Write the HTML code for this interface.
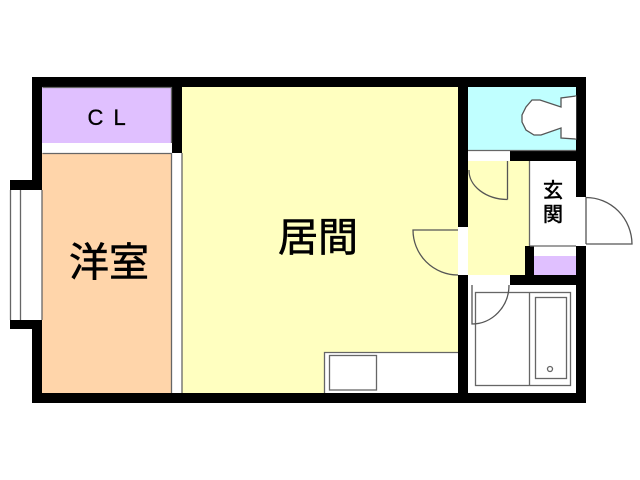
<!DOCTYPE html>
<html><head><meta charset="utf-8"><style>
html,body{margin:0;padding:0;background:#fff}
svg{display:block}
text{font-family:"Liberation Sans","Noto Sans CJK JP",sans-serif;fill:#000;stroke:#000;stroke-width:.6px}
</style></head><body>
<svg width="640" height="480" viewBox="0 0 640 480" xmlns="http://www.w3.org/2000/svg">
<rect width="640" height="480" fill="#fff"/>
<!-- outer walls -->
<rect x="32" y="77" width="554" height="326" fill="#000"/>
<rect x="10" y="180" width="32" height="149" fill="#000"/>
<!-- rooms -->
<rect x="42" y="87" width="130" height="56" fill="#e0c0ff"/>
<rect x="42" y="143" width="130" height="10" fill="#fff"/>
<rect x="42" y="153" width="130" height="240" fill="#ffd5aa"/>
<rect x="172" y="153" width="10" height="240" fill="#fff"/>
<rect x="182" y="87" width="276" height="306" fill="#ffffc0"/>
<rect x="468" y="87" width="108" height="63" fill="#c0ffff"/>
<rect x="468" y="151" width="42" height="10" fill="#fff"/>
<rect x="468" y="161" width="62" height="85" fill="#ffffc0"/>
<rect x="468" y="246" width="57" height="29" fill="#ffffc0"/>
<rect x="530" y="161" width="46" height="85" fill="#fff"/>
<rect x="534" y="246" width="42" height="10" fill="#fff"/>
<rect x="534" y="256" width="42" height="19" fill="#e0c0ff"/>
<rect x="468" y="275" width="42" height="10" fill="#fff"/>
<rect x="468" y="285" width="108" height="108" fill="#fff"/>
<rect x="458" y="227" width="10" height="48" fill="#fff"/>
<rect x="576" y="197" width="10" height="49" fill="#fff"/>
<rect x="10" y="190" width="32" height="130" fill="#fff"/>
<rect x="324" y="352" width="134" height="41" fill="#fff"/>
<g fill="none" stroke="#666" stroke-width="1.300">
<path d="M42.500 87.500H171.500V143M42.500 153.500H171.500V393M182 153V393"/>
<path d="M10.500 190V320M20.500 190V320M42 190V320" />
<path d="M529.500 161V246M530 246H576M468 150.500H576"/>
<path d="M324.500 393V352.500H458"/>
<rect x="329.500" y="355.500" width="47" height="34.500"/>
<rect x="475.500" y="292.500" width="95" height="93"/>
<path d="M529.500 292.500V385.500"/>
<rect x="535.500" y="297.500" width="31" height="81"/>
<circle cx="550" cy="369" r="2.500"/>
<path d="M507.500 161V199.500M469 170A39 29 0 0 0 507.500 199.500" stroke="#555"/>
<path d="M458 230H413A45 45 0 0 0 458 275" stroke="#555"/>
<path d="M586 197V244M586 197.500A46 47 0 0 1 632 244H586" stroke="#555"/>
<path d="M509 285A37 39 0 0 1 472 324V285" stroke="#555"/>
<path d="M576 96L561 98V107L540 100H532L526 107L522 115V122L526 130L534 135H541L561 128V138L576 139Z" fill="#fff" stroke="#555"/>
</g>
<rect x="575" y="96.500" width="1" height="42" fill="#fff"/>
<!-- labels -->
<text x="69" y="276" font-size="40">洋室</text>
<text x="278" y="251" font-size="40">居間</text>
<text x="543" y="197" font-size="20">玄</text>
<text x="543" y="221" font-size="20">関</text>
<text x="87.500" y="125" font-size="22" style="stroke-width:.3px">C</text>
<text x="113.500" y="125" font-size="22" style="stroke-width:.3px">L</text>
</svg>
</body></html>
